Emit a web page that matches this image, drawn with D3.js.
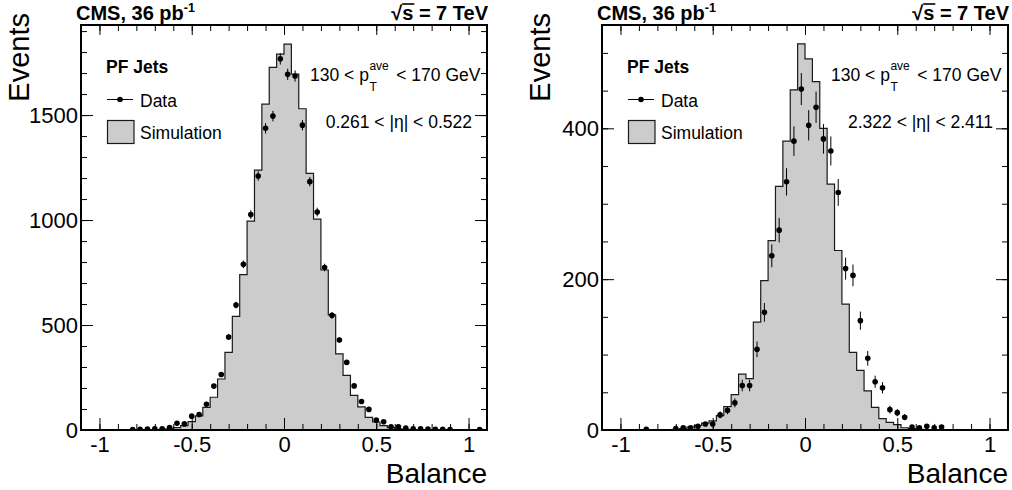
<!DOCTYPE html>
<html>
<head>
<meta charset="utf-8">
<script src="https://cdn.jsdelivr.net/npm/d3@7"></script>
<style>
body { margin: 0; background: #fff; }
svg text { font-family: "Liberation Sans", Arial, Helvetica, sans-serif; fill: #000; }
</style>
</head>
<body>
<svg id="chart" width="1012" height="490"></svg>
<script>
// bin width of the balance histograms
var binWidth = 0.04;

// left panel : 0.261 < |eta| < 0.522
var simLeftLow = [-0.72, -0.68, -0.64, -0.60, -0.56, -0.52, -0.48, -0.44, -0.40, -0.36, -0.32, -0.28, -0.24,
                  -0.20, -0.16, -0.12, -0.08, -0.04, 0.00, 0.04, 0.08, 0.12, 0.16, 0.20, 0.24, 0.28,
                  0.32, 0.36, 0.40, 0.44, 0.48, 0.52, 0.56, 0.60, 0.64, 0.68, 0.72];
var simLeftVal = [1, 3, 6, 11, 21, 40, 67, 108, 156, 243, 370, 541, 740,
                  995, 1238, 1552, 1727, 1790, 1838, 1695, 1530, 1222, 1004, 762, 548, 363,
                  260, 165, 110, 60, 38, 21, 11, 6, 3, 2, 1];
var dataLeftX = [-0.82, -0.78, -0.74, -0.70, -0.66, -0.62, -0.58, -0.54, -0.50, -0.46, -0.42, -0.38, -0.34,
                 -0.30, -0.26, -0.22, -0.18, -0.14, -0.10, -0.06, -0.02, 0.02, 0.06, 0.10, 0.14, 0.18,
                 0.22, 0.26, 0.30, 0.34, 0.38, 0.42, 0.46, 0.50, 0.54, 0.58, 0.62, 0.66, 0.70, 0.74,
                 0.78, 0.82, 0.86, 0.90, 1.06];
var dataLeftVal = [2, 3, 5, 6, 6, 12, 32, 29, 66, 74, 123, 209, 264,
                   443, 595, 789, 1026, 1210, 1437, 1495, 1768, 1694, 1686, 1452, 1183, 1038,
                   774, 546, 429, 322, 210, 136, 98, 47, 39, 15, 15, 9, 6, 6,
                   5, 3, 3, 2, 2];

// right panel : 2.322 < |eta| < 2.411
var simRightLow = [-0.72, -0.68, -0.64, -0.60, -0.56, -0.52, -0.48, -0.44, -0.40, -0.36, -0.32, -0.28,
                   -0.24, -0.20, -0.16, -0.12, -0.08, -0.04, 0.00, 0.04, 0.08, 0.12, 0.16, 0.20,
                   0.24, 0.28, 0.32, 0.36, 0.40, 0.44, 0.48, 0.52, 0.56, 0.60];
var simRightVal = [1, 2, 4, 6, 9, 12, 19, 31, 47, 74, 68, 143,
                   198, 251, 323, 383, 451, 512, 492, 462, 400, 326, 238, 167,
                   103, 79, 52, 30, 15, 10, 7, 3, 2, 1];
var dataRightX = [-0.86, -0.70, -0.66, -0.62, -0.58, -0.54, -0.50, -0.46, -0.42, -0.38, -0.34, -0.30,
                  -0.26, -0.22, -0.18, -0.14, -0.10, -0.06, -0.02, 0.02, 0.06, 0.10, 0.14, 0.18,
                  0.22, 0.26, 0.30, 0.34, 0.38, 0.42, 0.46, 0.50, 0.54, 0.58, 0.62, 0.66, 0.70, 0.74];
var dataRightVal = [1, 2, 3, 3, 5, 8, 8, 20, 26, 36, 59, 59,
                    107, 156, 231, 265, 329, 383, 452, 404, 428, 386, 370, 315,
                    214, 205, 145, 95, 64, 56, 27, 23, 17, 4, 3, 5, 3, 4];

// axis ticks
var xMajor = [-1, -0.5, 0, 0.5, 1];
var xMinor = d3.range(-11, 12).map(function(i) { return i / 10; });
var yLeftMajor = [0, 500, 1000, 1500];
var yRightMajor = [0, 200, 400];

var svg = d3.select("#chart");
var W = 406, H = 405, TOP = 25;

function drawPanel(cfg) {
    var g = svg.append("g").attr("transform", "translate(" + cfg.left + "," + TOP + ")");
    var x = d3.scaleLinear().domain([-1.1, 1.1]).range([0, W]);
    var y = d3.scaleLinear().domain([0, cfg.yMax]).range([H, 0]);

    g.append("clipPath").attr("id", "clip" + cfg.id)
        .append("rect").attr("width", W).attr("height", H);
    var plot = g.append("g").attr("clip-path", "url(#clip" + cfg.id + ")");

    // simulation histogram
    var pts = cfg.simLow.map(function(lo, i) { return {x: lo, v: cfg.simVal[i]}; });
    pts.push({x: cfg.simLow[cfg.simLow.length - 1] + binWidth, v: cfg.simVal[cfg.simVal.length - 1]});
    var area = d3.area().curve(d3.curveStepAfter)
        .x(function(d) { return x(d.x); })
        .y0(y(0))
        .y1(function(d) { return y(d.v); });
    plot.append("path").attr("d", area(pts))
        .attr("fill", "#cccccc").attr("stroke", "#1a1a1a").attr("stroke-width", 1.2);

    // data points with error bars
    var data = cfg.dataX.map(function(xv, i) { return {x: xv, v: cfg.dataVal[i]}; });
    plot.selectAll("line.err").data(data).enter().append("line")
        .attr("class", "err")
        .attr("x1", function(d) { return x(d.x); })
        .attr("x2", function(d) { return x(d.x); })
        .attr("y1", function(d) { return y(d.v + cfg.errScale * Math.sqrt(d.v)); })
        .attr("y2", function(d) { return y(Math.max(0, d.v - cfg.errScale * Math.sqrt(d.v))); })
        .attr("stroke", "#000").attr("stroke-width", 1);
    plot.selectAll("circle").data(data).enter().append("circle")
        .attr("cx", function(d) { return x(d.x); })
        .attr("cy", function(d) { return y(d.v); })
        .attr("r", 2.8).attr("fill", "#000");

    // axes (ticks inside the frame on all four sides)
    function clean(sel) { sel.select(".domain").remove(); }
    g.append("g").attr("transform", "translate(0," + H + ")")
        .call(d3.axisBottom(x).tickValues(xMinor).tickSize(-6).tickFormat("")).call(clean);
    var xa = g.append("g").attr("transform", "translate(0," + H + ")")
        .call(d3.axisBottom(x).tickValues(xMajor).tickSize(-12).tickPadding(6)
            .tickFormat(function(d) { return String(d); })).call(clean);
    xa.selectAll("text").attr("font-size", 22);
    g.append("g").call(d3.axisTop(x).tickValues(xMinor).tickSize(-6).tickFormat("")).call(clean);
    g.append("g").call(d3.axisTop(x).tickValues(xMajor).tickSize(-10).tickFormat("")).call(clean);

    g.append("g").call(d3.axisLeft(y).tickValues(cfg.yMinor).tickSize(-6).tickFormat("")).call(clean);
    var ya = g.append("g").call(d3.axisLeft(y).tickValues(cfg.yMajor).tickSize(-12).tickPadding(3)
        .tickFormat(function(d) { return String(d); })).call(clean);
    ya.selectAll("text").attr("font-size", 22);
    g.append("g").attr("transform", "translate(" + W + ",0)")
        .call(d3.axisRight(y).tickValues(cfg.yMinor).tickSize(-6).tickFormat("")).call(clean);
    g.append("g").attr("transform", "translate(" + W + ",0)")
        .call(d3.axisRight(y).tickValues(cfg.yMajor).tickSize(-12).tickFormat("")).call(clean);

    g.append("rect").attr("width", W).attr("height", H)
        .attr("fill", "none").attr("stroke", "#000").attr("stroke-width", 2);

    // axis titles
    g.append("text").attr("x", W).attr("y", 458).attr("text-anchor", "end")
        .attr("font-size", 28).text("Balance");
    g.append("text").attr("transform", "translate(-52.5," + (-12) + ") rotate(-90)")
        .attr("text-anchor", "end").attr("font-size", 29).text("Events");

    // header
    var h1 = g.append("text").attr("x", -5).attr("y", -5.5)
        .attr("font-size", 20).attr("font-weight", "bold");
    h1.append("tspan").text("CMS, 36 pb");
    h1.append("tspan").attr("dy", -7.5).attr("font-size", 12.5).text("-1");
    var h2 = g.append("text").attr("x", W + 1).attr("y", -5.5).attr("text-anchor", "end")
        .attr("font-size", 20).attr("font-weight", "bold").text("\u221As = 7 TeV");
    var n = h2.node();
    var s0 = n.getStartPositionOfChar(1), s1 = n.getEndPositionOfChar(1);
    g.append("line").attr("x1", s0.x).attr("x2", s1.x + 1)
        .attr("y1", -21).attr("y2", -21).attr("stroke", "#000").attr("stroke-width", 1.6);

    // legend
    g.append("text").attr("x", 25).attr("y", 48).attr("font-size", 17.5)
        .attr("font-weight", "bold").text("PF Jets");
    g.append("line").attr("x1", 26).attr("x2", 52).attr("y1", 74.5).attr("y2", 74.5)
        .attr("stroke", "#000").attr("stroke-width", 1);
    g.append("circle").attr("cx", 39).attr("cy", 74.5).attr("r", 2.8).attr("fill", "#000");
    g.append("text").attr("x", 59).attr("y", 81.5).attr("font-size", 17.5).text("Data");
    g.append("rect").attr("x", 26.5).attr("y", 95.5).attr("width", 26.5).attr("height", 23)
        .attr("fill", "#cccccc").attr("stroke", "#1a1a1a").attr("stroke-width", 1.2);
    g.append("text").attr("x", 59).attr("y", 114).attr("font-size", 17.5).text("Simulation");

    // selection text
    var t1 = g.append("text").attr("x", 229).attr("y", 56).attr("font-size", 17.5).text("130 < p");
    var w1 = t1.node().getComputedTextLength();
    var sub = g.append("text").attr("x", 229 + w1 + 0.5).attr("y", 65.5).attr("font-size", 12).text("T");
    var sup = g.append("text").attr("x", 229 + w1 + 0.5).attr("y", 44.5).attr("font-size", 12).text("ave");
    var w2 = Math.max(sub.node().getComputedTextLength(), sup.node().getComputedTextLength());
    g.append("text").attr("x", 229 + w1 + w2 + 8).attr("y", 56).attr("font-size", 17.5)
        .text("< 170 GeV");
    g.append("text").attr("x", 391).attr("y", 103).attr("text-anchor", "end")
        .attr("font-size", 17.5).text(cfg.etaLabel);
}

drawPanel({id: "L", left: 81, yMax: 1929, yMajor: yLeftMajor, yMinor: d3.range(0, 1901, 100),
           simLow: simLeftLow, simVal: simLeftVal, dataX: dataLeftX, dataVal: dataLeftVal,
           errScale: 0.65, etaLabel: "0.261 < |\u03B7| < 0.522"});
drawPanel({id: "R", left: 602, yMax: 537, yMajor: yRightMajor, yMinor: d3.range(0, 501, 50),
           simLow: simRightLow, simVal: simRightVal, dataX: dataRightX, dataVal: dataRightVal,
           errScale: 1.0, etaLabel: "2.322 < |\u03B7| < 2.411"});
</script>
</body>
</html>
